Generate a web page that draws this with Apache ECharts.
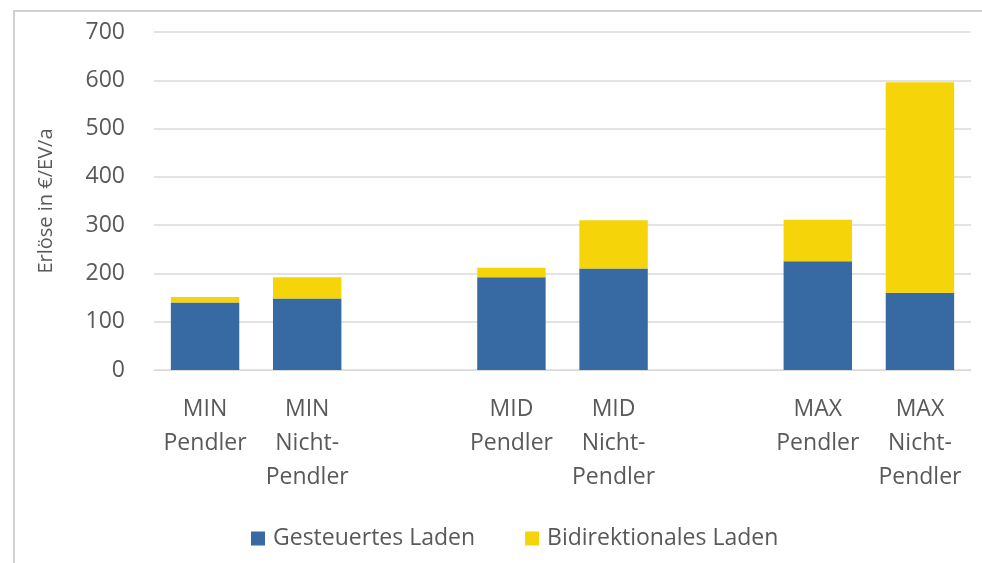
<!DOCTYPE html>
<html>
<head>
<meta charset="utf-8">
<style>
  html, body { margin: 0; padding: 0; background: #fff; }
  #chart { width: 982px; height: 563px; }
</style>
<script src="https://cdn.jsdelivr.net/npm/echarts@6/dist/echarts.min.js"></script>
</head>
<body>
<div id="chart"></div>
<script>
// categories, with an empty slot between the scenario groups
const categories = [
  'MIN\nPendler', 'MIN\nNicht-\nPendler', '',
  'MID\nPendler', 'MID\nNicht-\nPendler', '',
  'MAX\nPendler', 'MAX\nNicht-\nPendler'
]
const gesteuert = [140, 148, null, 192, 210, null, 225, 160]
const bidirektional = [11, 44, null, 20, 100, null, 86, 436]
const yTicks = { min: 0, max: 700, interval: 100 }

const font = '"Open Sans", "Noto Sans", sans-serif'
const textColor = '#595959'

const chart = echarts.init(document.getElementById('chart'), null, { renderer: 'canvas' })
chart.setOption({
  animation: false,
  textStyle: { fontFamily: font },
  graphic: [{
    type: 'rect',
    shape: { x: 14, y: 11, width: 1000, height: 600 },
    style: { fill: 'none', stroke: '#d0d0d0', lineWidth: 2 },
    silent: true
  }],
  grid: {
    left: 154,
    right: 11,
    top: 32,
    bottom: 193
  },
  legend: {
    top: 522,
    left: 246,
    itemWidth: 14,
    itemHeight: 14,
    itemGap: 50,
    icon: 'rect',
    textStyle: { fontSize: 23, color: textColor, fontFamily: font, padding: [0, 0, 0, 3] },
    data: ['Gesteuertes Laden', 'Bidirektionales Laden']
  },
  xAxis: {
    type: 'category',
    data: categories,
    axisLine: { show: true, lineStyle: { color: '#d9d9d9' } },
    axisTick: { show: false },
    axisLabel: {
      interval: 0,
      margin: 22,
      fontSize: 23,
      lineHeight: 34,
      color: textColor,
      fontFamily: font
    }
  },
  yAxis: {
    type: 'value',
    min: yTicks.min,
    max: yTicks.max,
    interval: yTicks.interval,
    name: 'Erlöse in €/EV/a',
    nameLocation: 'middle',
    nameGap: 98,
    nameTextStyle: { fontSize: 20, color: textColor, fontFamily: font },
    axisLine: { show: false },
    axisTick: { show: false },
    axisLabel: { margin: 29, fontSize: 23, color: textColor, fontFamily: font },
    splitLine: { lineStyle: { color: '#e3e3e3', width: 2 } }
  },
  series: [
    {
      name: 'Gesteuertes Laden',
      type: 'bar',
      stack: 'total',
      barWidth: '67%',
      itemStyle: { color: '#376AA3' },
      data: gesteuert
    },
    {
      name: 'Bidirektionales Laden',
      type: 'bar',
      stack: 'total',
      barWidth: '67%',
      itemStyle: { color: '#F5D40A' },
      data: bidirektional
    }
  ]
})
</script>
</body>
</html>
